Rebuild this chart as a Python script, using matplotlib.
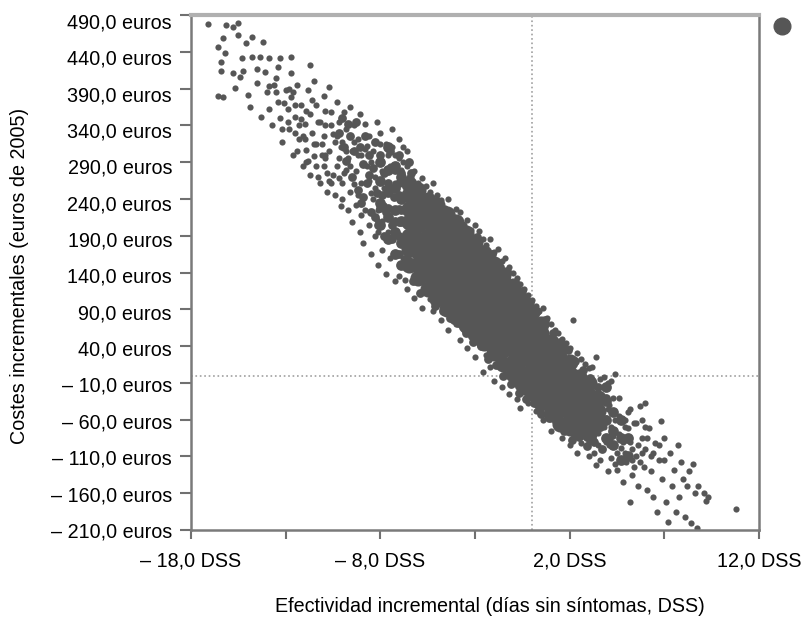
import matplotlib
matplotlib.use("Agg")
import matplotlib.pyplot as plt

plt.rcParams['font.family'] = ['Liberation Sans', 'DejaVu Sans']

# x axis / y axis ticks
x_ticks = [-18, -13, -8, -3, 2, 7, 12]
x_labels = ['– 18,0 DSS', '', '– 8,0 DSS', '', '2,0 DSS', '', '12,0 DSS']
y_ticks = [490, 440, 390, 340, 290, 240, 190, 140, 90, 40, -10, -60, -110, -160, -210]
y_labels = ['490,0 euros', '440,0 euros', '390,0 euros', '340,0 euros', '290,0 euros',
            '240,0 euros', '190,0 euros', '140,0 euros', '90,0 euros', '40,0 euros',
            '– 10,0 euros', '– 60,0 euros', '– 110,0 euros', '– 160,0 euros', '– 210,0 euros']

# top left tail
tail_x = [-17.1, -16.15, -15.8, -15.5, -16.3, -16.6, -16.2, -16.4, -16.4, -15.5,
          -15.1, -14.8, -14.2, -15.3, -14.8, -14.35, -13.9, -13.3, -12.7, -13.4,
          -11.7, -15.8, -15.25, -14.5, -14.1, -15.4, -12.7, -15.7, -16.6, -16.3,
          -15.0, -14.9, -14.5, -13.9, -13.5]
tail_y = [478, 476, 474, 479, 459, 446, 438, 426, 414, 463,
          452, 460, 453, 432, 433, 433, 432, 432, 433, 419,
          422, 411, 414, 417, 413, 406, 411, 391, 380, 378,
          381, 365, 398, 393, 404]

# upper part of the band
band_x = [-14.3, -14.0, -13.9, -13.7, -13.6, -13.4, -13.3, -13.2, -13.0, -12.9,
          -12.8, -12.7, -12.6, -12.5, -12.4, -12.3, -12.2, -12.1, -12.0, -11.9,
          -11.8, -11.7, -11.7, -11.6, -11.5, -11.5, -11.4, -11.3, -11.2, -11.1,
          -11.0, -11.0, -10.9, -10.8, -10.7, -10.7, -10.6, -10.5, -10.5, -10.4,
          -10.3, -10.2, -10.2, -10.1, -10.0, -10.0, -9.9, -9.8, -9.8, -9.7,
          -9.6, -9.6, -9.5, -9.5, -9.4, -9.3, -9.3, -9.2, -9.1, -9.1,
          -9.0, -9.0, -8.9, -8.8, -8.8, -8.7, -8.6, -8.6, -8.5, -8.5,
          -8.4, -8.3, -8.3, -8.2, -8.1, -8.1, -8.0, -8.0, -7.9, -7.9,
          -7.8, -7.7, -7.7, -7.6, -7.5, -7.5, -7.4, -7.3, -7.2, -7.2,
          -12.9, -12.5, -12.2, -12.0, -11.8, -11.4, -11.2, -11.0, -10.8, -10.6,
          -10.4, -10.2, -10.0, -9.8, -9.6, -9.4, -9.2, -9.0, -8.8, -8.6,
          -8.4, -8.2, -8.0, -7.8, -7.6, -7.4, -7.2, -7.0, -6.8, -6.6,
          -10.9, -10.6, -10.3, -10.1, -9.9, -9.7, -9.4, -9.2, -9.0, -8.7,
          -8.5, -8.3, -8.1, -7.9, -7.6, -7.4, -7.1, -6.9, -6.7, -6.5,
          -13.1, -12.8, -12.5, -12.3, -12.1, -11.9, -11.6, -11.4, -11.1, -10.9,
          -13.5, -13.2, -12.6, -12.4, -11.9, -11.5, -11.3, -10.9, -10.7, -10.3]
band_y = [352, 385, 362, 340, 395, 372, 350, 318, 388, 362,
          335, 378, 300, 352, 395, 322, 368, 285, 342, 306,
          388, 355, 272, 330, 400, 298, 368, 345, 262, 315,
          380, 285, 340, 250, 392, 305, 358, 272, 328, 245,
          372, 295, 345, 230, 318, 262, 358, 280, 335, 225,
          365, 250, 305, 208, 340, 278, 232, 322, 195, 355,
          262, 300, 180, 342, 225, 285, 205, 325, 248, 165,
          305, 190, 270, 345, 225, 150, 290, 330, 210, 170,
          255, 138, 315, 195, 285, 160, 335, 225, 128, 300,
          345, 330, 348, 322, 292, 285, 345, 326, 275, 340,
          318, 268, 240, 305, 285, 260, 245, 218, 308, 265,
          240, 212, 315, 232, 300, 188, 262, 322, 290, 305,
          300, 262, 325, 310, 275, 296, 318, 300, 235, 312,
          290, 255, 195, 278, 255, 310, 208, 280, 130, 270,
          370, 390, 368, 340, 325, 360, 375, 315, 300, 360,
          385, 335, 385, 305, 290, 315, 270, 295, 265, 285]

# upper and lower fringe of the dense part
upper_x = [-7.0, -6.8, -6.6, -6.4, -6.2, -6.0, -5.8, -5.6, -5.4, -5.2,
           -5.0, -4.8, -4.6, -4.4, -4.2, -4.0, -3.8, -3.6, -3.4, -3.2,
           -3.0, -2.8, -2.6, -2.4, -2.2, -2.0, -1.8, -1.6, -1.4, -1.2,
           -1.0, -0.8, -0.6, -0.4, -0.2, 0.0, 0.2, 0.4, 0.6, 0.8,
           1.0, 1.2, 1.4, 1.6, 1.8, 2.0, 2.2, 2.4, 2.6, 2.8,
           3.0, 3.2, 3.4, 3.6, 3.8, 4.0, 4.2, 4.4]
upper_y = [295, 310, 285, 270, 278, 262, 268, 258, 250, 262,
           245, 238, 228, 240, 218, 226, 222, 205, 212, 198,
           205, 196, 186, 178, 185, 168, 172, 155, 160, 148,
           140, 132, 125, 118, 110, 102, 95, 88, 92, 78,
           70, 62, 58, 50, 44, 38, 75, 30, 22, 15,
           10, 12, 25, -5, -2, -10, -8, 2]
lower_x = [-7.0, -6.8, -6.6, -6.4, -6.2, -6.0, -5.8, -5.6, -5.4, -5.2,
           -5.0, -4.8, -4.6, -4.4, -4.2, -4.0, -3.8, -3.6, -3.4, -3.2,
           -3.0, -2.8, -2.6, -2.4, -2.2, -2.0, -1.8, -1.6, -1.4, -1.2,
           -1.0, -0.8, -0.6, -0.4, -0.2, 0.0, 0.2, 0.4, 0.6, 0.8,
           1.0, 1.2, 1.4, 1.6, 1.8, 2.0, 2.2, 2.4]
lower_y = [135, 160, 118, 145, 105, 128, 92, 115, 104, 88,
           108, 75, 92, 62, 85, 70, 48, 62, 38, 55,
           25, 45, 5, 28, 12, -8, 20, -15, 2, -25,
           -10, -32, -44, -22, -38, -20, -48, -30, -60, -42,
           -75, -55, -68, -85, -72, -95, -80, -105]

# bottom right tail
end_x = [2.6, 2.8, 3.0, 3.1, 3.3, 3.4, 3.6, 3.7, 3.8, 4.0,
         4.1, 4.2, 4.3, 4.4, 4.5, 4.6, 4.7, 4.8, 4.9, 5.0,
         5.1, 5.2, 5.2, 5.3, 5.4, 5.5, 5.6, 5.7, 5.8, 5.9,
         6.0, 6.0, 6.1, 6.2, 6.3, 6.4, 6.5, 6.6, 6.7, 6.8,
         6.9, 7.0, 7.1, 7.2, 7.3, 7.4, 7.5, 7.6, 7.7, 7.8,
         7.9, 8.0, 8.1, 8.2, 8.3, 8.4, 8.5, 8.6, 8.7, 8.8,
         9.1, 9.2, 9.3, 10.8,
         3.2, 3.5, 3.9, 4.1, 4.3, 4.6, 4.9, 5.1, 5.4, 5.6,
         3.3, 3.6, 3.9, 4.2, 4.5, 4.7, 5.0, 5.3, 5.7, 6.0,
         3.4, 3.7, 4.0, 4.3, 4.6, 4.9, 5.2, 5.5, 5.8, 6.1,
         6.4, 6.7, 3.0, 3.5, 4.4, 4.8, 5.3, 5.8, 6.3, 7.0]
end_y = [-92, -60, -110, -75, -88, -122, -50, -100, -70, -130,
         -40, -112, -82, -60, -128, -30, -98, -145, -70, -118,
         -50, -172, -90, -135, -65, -110, -150, -42, -85, -125,
         -38, -100, -155, -72, -130, -165, -92, -185, -115, -62,
         -140, -85, -172, -199, -105, -150, -128, -186, -95, -165,
         -118, -140, -192, -150, -130, -200, -120, -160, -207, -150,
         -160, -170, -165, -181,
         -60, -78, -58, -95, -50, -80, -105, -72, -125, -95,
         -105, -115, -90, -70, -105, -62, -88, -115, -118, -70,
         -25, -35, -45, -30, -55, -60, -45, -65, -60, -85,
         -105, -95, -90, -95, -120, -90, -100, -105, -110, -115]

# between the solid part and the fringe, and the patchy part before it
fill_x = [-6.9, -6.5, -6.1, -5.7, -5.3, -4.9, -4.5, -4.1, -3.7, -3.3,
          -2.9, -2.5, -2.1, -1.7, -1.3, -0.9, -0.5, -0.1, 0.3, 0.7,
          1.1, 1.5, 1.9, 2.3, 2.7, 3.1, 3.5, 3.9,
          -6.7, -6.3, -5.9, -5.5, -5.1, -4.7, -4.3, -3.9, -3.5, -3.1,
          -2.7, -2.3, -1.9, -1.5, -1.1, -0.7, -0.3, 0.1, 0.5, 0.9,
          1.3, 1.7, 2.1, 2.5, 2.9, 3.3, 3.7, 4.1,
          -10.2, -10.0, -9.9, -9.8, -9.7, -9.6, -9.5, -9.4, -9.3, -9.2,
          -9.1, -9.0, -8.9, -8.8, -8.7, -8.6, -8.5, -8.4, -8.3, -8.2,
          -8.1, -8.0, -7.9, -7.8, -7.7, -7.6, -7.5, -7.4, -7.3, -7.2,
          -8.9, -8.6, -8.3, -8.0, -7.8, -7.6, -7.4, -7.2, -7.0, -6.9,
          -7.0, -7.0, -7.0, -7.0, -7.0, -7.0,
          -6.8, -6.6, -6.5, -6.4, -6.3]
fill_y = [275, 262, 252, 240, 238, 225, 222, 210, 205, 192,
          188, 172, 165, 148, 142, 126, 115, 100, 88, 76,
          58, 46, 34, 20, 8, -4, -16, -30,
          150, 128, 112, 118, 95, 88, 78, 72, 58, 45,
          40, 22, 14, 0, -12, -24, -32, -38, -52, -58,
          -62, -75, -88, -84, -96, -90, -100, -85,
          330, 350, 310, 292, 342, 325, 270, 305, 345, 252,
          310, 235, 288, 325, 262, 300, 222, 282, 318, 248,
          205, 300, 245, 275, 222, 262, 305, 185, 242, 280,
          242, 272, 215, 228, 190, 228, 205, 210, 300, 225,
          165, 190, 208, 226, 246, 262,
          180, 160, 290, 275, 150]

# ends of the solid part, medium dots
bridge_x = [-8.0, -8.0, -8.0, -8.0,
            -7.6, -7.6, -7.6, -7.6, -7.6,
            -7.2, -7.2, -7.2, -7.2, -7.2,
            -6.9, -6.9, -6.9, -6.9, -6.9,
            3.9, 3.9, 3.9, 3.9,
            4.3, 4.3, 4.3,
            4.7, 4.7, 4.7,
            5.1, 5.1]
bridge_y = [205, 235, 265, 290,
            185, 215, 250, 280, 310,
            165, 195, 225, 255, 285,
            150, 180, 210, 240, 270,
            -85, -60, -35, -15,
            -95, -75, -50,
            -115, -85, -60,
            -110, -85]

# solid middle of the cloud, drawn with bigger dots
core_x = [-6.5, -6.5, -6.5, -6.5, -6.5, -6.5, -6.5,
          -6.0, -6.0, -6.0, -6.0, -6.0, -6.0, -6.0, -6.0,
          -5.5, -5.5, -5.5, -5.5, -5.5, -5.5, -5.5, -5.5,
          -5.0, -5.0, -5.0, -5.0, -5.0, -5.0, -5.0, -5.0, -5.0,
          -4.5, -4.5, -4.5, -4.5, -4.5, -4.5, -4.5, -4.5, -4.5,
          -4.0, -4.0, -4.0, -4.0, -4.0, -4.0, -4.0, -4.0, -4.0,
          -3.5, -3.5, -3.5, -3.5, -3.5, -3.5, -3.5, -3.5, -3.5,
          -3.0, -3.0, -3.0, -3.0, -3.0, -3.0, -3.0, -3.0, -3.0,
          -2.5, -2.5, -2.5, -2.5, -2.5, -2.5, -2.5, -2.5, -2.5,
          -2.0, -2.0, -2.0, -2.0, -2.0, -2.0, -2.0, -2.0, -2.0,
          -1.5, -1.5, -1.5, -1.5, -1.5, -1.5, -1.5, -1.5, -1.5,
          -1.0, -1.0, -1.0, -1.0, -1.0, -1.0, -1.0, -1.0, -1.0,
          -0.5, -0.5, -0.5, -0.5, -0.5, -0.5, -0.5, -0.5,
          0.0, 0.0, 0.0, 0.0, 0.0, 0.0, 0.0, 0.0,
          0.5, 0.5, 0.5, 0.5, 0.5, 0.5, 0.5, 0.5,
          1.0, 1.0, 1.0, 1.0, 1.0, 1.0, 1.0,
          1.5, 1.5, 1.5, 1.5, 1.5, 1.5, 1.5,
          2.0, 2.0, 2.0, 2.0, 2.0, 2.0,
          2.5, 2.5, 2.5, 2.5, 2.5,
          3.0, 3.0, 3.0, 3.0, 3.0,
          3.5, 3.5, 3.5]
core_y = [150, 172, 190, 208, 226, 245, 260,
          132, 150, 168, 186, 204, 222, 238, 252,
          118, 136, 154, 172, 190, 208, 224, 238,
          104, 120, 138, 156, 174, 192, 208, 222, 232,
          90, 108, 126, 144, 162, 180, 196, 210, 220,
          80, 98, 116, 134, 152, 168, 184, 198, 208,
          68, 86, 104, 122, 138, 154, 170, 184, 194,
          56, 74, 92, 110, 126, 142, 158, 172, 182,
          44, 62, 80, 96, 112, 128, 144, 158, 166,
          30, 48, 64, 80, 96, 112, 128, 142, 152,
          16, 34, 50, 66, 82, 98, 114, 128, 136,
          2, 18, 36, 52, 68, 84, 100, 114, 122,
          -12, 4, 22, 38, 54, 70, 86, 102,
          -24, -8, 8, 24, 40, 56, 72, 86,
          -38, -22, -6, 10, 26, 42, 58, 70,
          -52, -34, -18, -2, 14, 30, 46,
          -66, -46, -28, -10, 6, 22, 36,
          -72, -52, -34, -16, 2, 18,
          -76, -56, -38, -20, -2,
          -80, -62, -44, -26, -10,
          -66, -48, -30]

dot_col = '#565656'
fig = plt.figure(figsize=(8.05, 6.17), dpi=100)
ax = fig.add_axes([191 / 805, 1 - 530 / 617, 568 / 805, 515 / 617])

ax.axvline(0, color='#a0a0a0', lw=1.2, ls=':', zorder=1)
ax.axhline(0, color='#a0a0a0', lw=1.2, ls=':', zorder=1)

ax.scatter(core_x, core_y, s=135, color=dot_col, lw=0, zorder=2)
ax.scatter(bridge_x, bridge_y, s=60, color=dot_col, lw=0, zorder=2)
ax.scatter(fill_x, fill_y, s=40, color=dot_col, lw=0, zorder=2)
for xs, ys in [(tail_x, tail_y), (band_x, band_y), (upper_x, upper_y), (lower_x, lower_y), (end_x, end_y)]:
    ax.scatter(xs, ys, s=20, color=dot_col, lw=0, zorder=2)

ax.set_xlim(-18, 12)
ax.set_ylim(-210, 490)

ax.set_xticks(x_ticks)
ax.set_xticklabels(x_labels, fontsize=14.2)
ax.set_yticks(y_ticks)
ax.set_yticklabels([])
ax.tick_params(axis='x', length=6.5, width=1.5, color='#707070', pad=9)
ax.tick_params(axis='y', length=8, width=1.5, color='#707070')

# the labels sit a little lower than the ticks near the top
for i, lab in enumerate(y_labels):
    ax.annotate(lab, xy=(0, 1), xycoords='axes fraction', xytext=(172, 617 - (23 + 36.35 * i)),
                textcoords='figure pixels', ha='right', va='center', fontsize=14.2)

for side in ['left', 'bottom', 'right']:
    ax.spines[side].set_color('#7a7a7a')
    ax.spines[side].set_linewidth(1.8)
ax.spines['top'].set_color('#b0b0b0')
ax.spines['top'].set_linewidth(3)

# legend dot out of the frame
ax.plot([1.0405], [0.979], 'o', ms=12, color=dot_col, transform=ax.transAxes, clip_on=False)

fig.text(20 / 805, 1 - 276 / 617, 'Costes incrementales (euros de 2005)', rotation=90,
         ha='center', va='center', fontsize=14.2)
fig.text(490 / 805, 1 - 607 / 617, 'Efectividad incremental (días sin síntomas, DSS)',
         ha='center', va='center', fontsize=14.2)

fig.savefig('out.png', dpi=100)
